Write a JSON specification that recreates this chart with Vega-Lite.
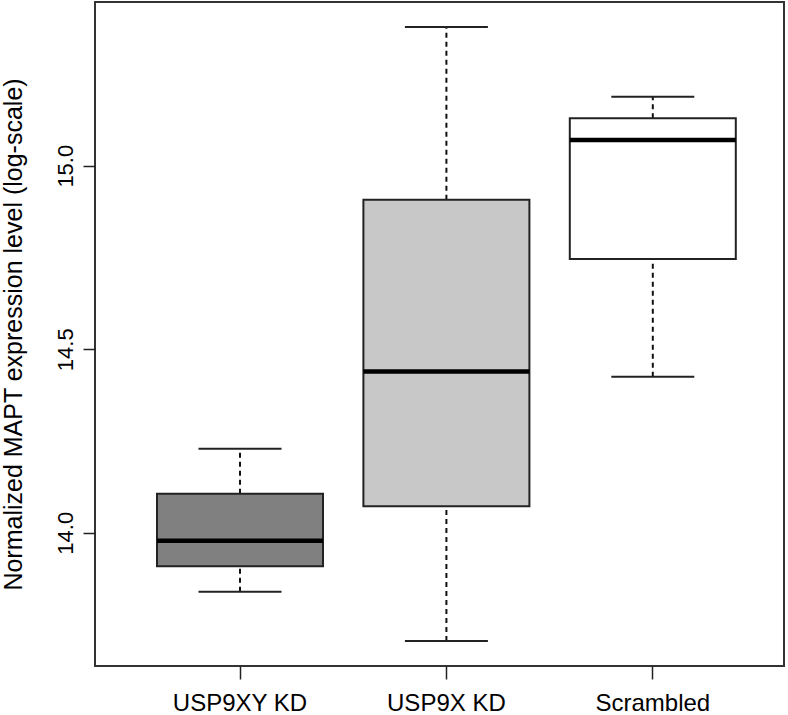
{
  "$schema": "https://vega.github.io/schema/vega-lite/v6.json",
  "autosize": "none",
  "width": 689,
  "height": 664,
  "padding": {"left": 95, "top": 2, "right": 4, "bottom": 49},
  "background": "white",
  "config": {
    "font": "Liberation Sans",
    "view": {"stroke": "#333333", "strokeWidth": 2},
    "axis": {"grid": false, "domain": false, "labelColor": "#000000", "titleColor": "#000000", "tickColor": "#222222", "tickWidth": 1.5, "titleFontWeight": "normal"}
  },
  "data": {
    "values": [
      {"group": "USP9XY KD", "lower": 13.839, "q1": 13.909, "median": 13.978, "q3": 14.106, "upper": 14.229},
      {"group": "USP9X KD", "lower": 13.705, "q1": 14.072, "median": 14.439, "q3": 14.907, "upper": 15.378},
      {"group": "Scrambled", "lower": 14.425, "q1": 14.746, "median": 15.070, "q3": 15.129, "upper": 15.188}
    ]
  },
  "encoding": {
    "x": {
      "field": "group",
      "type": "nominal",
      "sort": ["USP9XY KD", "USP9X KD", "Scrambled"],
      "scale": {"range": [62, 640.8], "paddingInner": 0.1957, "paddingOuter": 0},
      "axis": {"title": null, "labelFontSize": 24, "tickSize": 13, "labelPadding": 12, "labelAngle": 0, "labelBaseline": "top"}
    }
  },
  "layer": [
    {
      "mark": {"type": "rule", "stroke": "#111111", "strokeWidth": 2, "strokeDash": [5, 4]},
      "encoding": {
        "y": {
          "field": "lower",
          "type": "quantitative",
          "scale": {"domain": [13.637, 15.446], "zero": false, "nice": false},
          "axis": {
            "title": "Normalized MAPT expression level (log-scale)",
            "titleFontSize": 25,
            "titleX": -74,
            "titleBaseline": "alphabetic",
            "values": [14, 14.5, 15],
            "format": ".1f",
            "labelFontSize": 22,
            "labelAngle": -90,
            "labelAlign": "center",
            "labelBaseline": "alphabetic",
            "tickSize": 12,
            "labelPadding": 11
          }
        },
        "y2": {"field": "q1"}
      }
    },
    {
      "mark": {"type": "rule", "stroke": "#111111", "strokeWidth": 2, "strokeDash": [5, 4]},
      "encoding": {
        "y": {"field": "q3", "type": "quantitative"},
        "y2": {"field": "upper"}
      }
    },
    {
      "mark": {"type": "bar", "fill": null, "stroke": "#222222", "strokeWidth": 2, "width": {"band": 0.5}},
      "encoding": {
        "y": {"field": "lower", "type": "quantitative"},
        "y2": {"field": "lower"}
      }
    },
    {
      "mark": {"type": "bar", "fill": null, "stroke": "#222222", "strokeWidth": 2, "width": {"band": 0.5}},
      "encoding": {
        "y": {"field": "upper", "type": "quantitative"},
        "y2": {"field": "upper"}
      }
    },
    {
      "mark": {"type": "bar", "stroke": "#222222", "strokeWidth": 2, "opacity": 1},
      "encoding": {
        "y": {"field": "q1", "type": "quantitative"},
        "y2": {"field": "q3"},
        "fill": {
          "field": "group",
          "type": "nominal",
          "scale": {"domain": ["USP9XY KD", "USP9X KD", "Scrambled"], "range": ["#808080", "#c8c8c8", "#ffffff"]},
          "legend": null
        }
      }
    },
    {
      "mark": {"type": "bar", "fill": null, "stroke": "#000000", "strokeWidth": 4.5},
      "encoding": {
        "y": {"field": "median", "type": "quantitative"},
        "y2": {"field": "median"}
      }
    }
  ]
}
